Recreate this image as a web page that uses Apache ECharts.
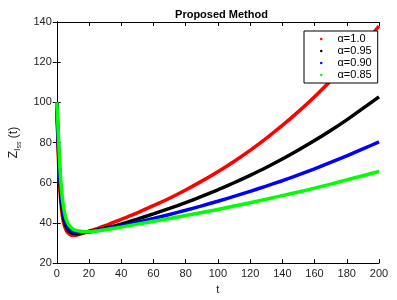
<!DOCTYPE html>
<html>
<head>
<meta charset="utf-8">
<script src="https://cdn.jsdelivr.net/npm/echarts@6/dist/echarts.min.js"></script>
<style>html,body{margin:0;padding:0;background:#fff;}#c{width:397px;height:300px;}</style>
</head>
<body>
<div id="c"></div>
<script>
const tValues = [0,1,2,3,4,5,6,7,8,10,12,15,20,25,30,40,50,60,70,80,90,100,110,120,130,140,150,160,170,180,190,200];
const alpha100 = [100,73,56,46.5,41,38,36.2,35,34.3,33.8,33.9,34.6,35.9,37.2,38.6,41.8,45.0,48.6,52.3,56.4,60.8,65.5,70.6,76.1,82.1,88.5,95.4,102.8,110.8,119.2,128.2,138];
const alpha095 = [100,77,60,49.5,43.5,40,37.8,36.4,35.6,34.8,34.6,34.9,35.7,36.5,37.4,39.4,41.9,44.5,47.2,50.1,53.2,56.5,60.0,63.7,67.6,71.8,76.3,81.0,86.0,91.3,97.0,102.7];
const alpha090 = [100,80,63,52.5,46,42,39.5,38,37,35.8,35.4,35.3,35.5,36.2,36.9,38.5,40.3,42.2,44.2,46.3,48.5,50.8,53.2,55.7,58.3,61.0,63.9,66.9,70.1,73.4,76.8,80.3];
const alpha085 = [100,84,67,56,49,44.5,41.5,39.7,38.5,37,36.3,35.9,35.6,36.0,36.6,37.9,39.4,40.8,42.2,43.7,45.2,46.7,48.4,50.0,51.8,53.6,55.4,57.3,59.3,61.4,63.5,65.6];
const seriesNames = ['α=1.0','α=0.95','α=0.90','α=0.85'];
const seriesColors = ['#ff0000','#000000','#0000ff','#00ff00'];
const xTicks = {min:0,max:200,interval:20};
const yTicks = {min:20,max:140,interval:20};

const allData = [alpha100, alpha095, alpha090, alpha085];
const chart = echarts.init(document.getElementById('c'), null, {renderer:'canvas'});
const font = 'Liberation Sans, Arial, sans-serif';
const axisCommon = {
  axisLine:{show:true,lineStyle:{color:'#000',width:1}},
  axisTick:{show:true,inside:true,length:4,lineStyle:{color:'#000'}},
  splitLine:{show:false}
};
chart.setOption({
  animation:false,
  title:{text:'Proposed Method',left:216.5,textAlign:'center',top:4,
    textStyle:{fontFamily:font,fontSize:11,fontWeight:'bold',color:'#000'}},
  grid:{left:54,right:18,top:22,bottom:32},
  legend:{
    orient:'vertical',left:304,top:31,
    data:seriesNames.map((n,i)=>({name:n,icon:'circle',itemStyle:{color:seriesColors[i]}})),
    itemWidth:2.5,itemHeight:2.5,itemGap:0,
    padding:[2,6,2,16],
    backgroundColor:'#fff',borderColor:'#000',borderWidth:1,
    textStyle:{fontFamily:font,fontSize:11,color:'#000',lineHeight:12,padding:[0,0,0,10]}
  },
  xAxis:[
    Object.assign({type:'value',min:xTicks.min,max:xTicks.max,interval:xTicks.interval,
      name:'t',nameLocation:'middle',nameGap:20,
      nameTextStyle:{fontFamily:font,fontSize:11,color:'#222'},
      axisLabel:{fontFamily:font,fontSize:11,color:'#222',margin:5}},axisCommon),
    Object.assign({type:'value',position:'top',min:xTicks.min,max:xTicks.max,interval:xTicks.interval,
      axisLabel:{show:false}},axisCommon)
  ],
  yAxis:[
    Object.assign({type:'value',min:yTicks.min,max:yTicks.max,interval:yTicks.interval,
      name:'{z|Z}{i|I}{s|ss}{z| (t)}',nameLocation:'middle',nameGap:27,nameRotate:90,
      nameTextStyle:{rich:{
        z:{fontFamily:font,fontSize:12,color:'#222'},
        i:{fontFamily:font,fontSize:9,color:'#222',verticalAlign:'bottom',padding:[6,0,0,0]},
        s:{fontFamily:font,fontSize:7,color:'#222',verticalAlign:'bottom',padding:[10,0,0,0]}
      }},
      axisLabel:{fontFamily:font,fontSize:11,color:'#222',margin:5}},axisCommon),
    Object.assign({type:'value',position:'right',min:yTicks.min,max:yTicks.max,interval:yTicks.interval,
      axisLabel:{show:false}},axisCommon)
  ],
  series: allData.map((arr,i)=>({
    name:seriesNames[i],type:'line',smooth:0.25,symbol:'none',
    itemStyle:{color:seriesColors[i]},
    lineStyle:{color:seriesColors[i],width:3.5},
    data:tValues.map((t,j)=>[t,arr[j]])
  }))
});
</script>
</body>
</html>
